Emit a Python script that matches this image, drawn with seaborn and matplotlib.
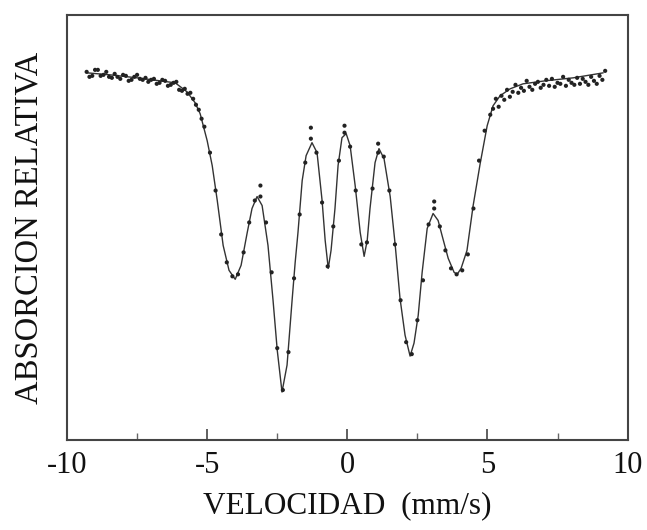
import matplotlib
matplotlib.use("Agg")
import matplotlib.pyplot as plt
import seaborn as sns
import pandas as pd
from matplotlib.ticker import MultipleLocator

# Fitted curve (velocity mm/s, relative transmission %)
fit_velocity = [-9.28, -8.46, -7.50, -6.68, -6.14, -5.72, -5.43, -5.25, -5.00, -4.82,
                -4.64, -4.43, -4.22, -4.00, -3.79, -3.57, -3.40, -3.22, -3.04, -2.83,
                -2.65, -2.50, -2.33, -2.15, -1.97, -1.86, -1.76, -1.61, -1.47, -1.26,
                -1.08, -0.90, -0.79, -0.68, -0.58, -0.44, -0.33, -0.19, -0.04, 0.10,
                0.28, 0.46, 0.60, 0.71, 0.81, 0.99, 1.13, 1.31, 1.53, 1.71,
                1.88, 2.06, 2.24, 2.38, 2.53, 2.67, 2.85, 3.06, 3.24, 3.38,
                3.60, 3.81, 3.92, 4.06, 4.27, 4.49, 4.74, 4.99, 5.20, 5.45,
                5.81, 6.27, 7.06, 8.06, 9.13]
fit_value = [99.90, 99.80, 99.65, 99.50, 99.40, 98.95, 98.40, 97.85, 96.50, 95.25,
             93.50, 91.25, 90.00, 89.55, 90.25, 91.90, 93.10, 93.70, 93.25, 91.25,
             88.50, 86.00, 83.90, 85.25, 88.50, 90.40, 91.90, 94.50, 95.75, 96.40,
             95.90, 93.50, 91.50, 90.10, 91.00, 93.10, 95.25, 96.65, 96.85, 96.25,
             94.25, 91.90, 90.70, 91.50, 93.10, 95.40, 96.10, 95.60, 93.70, 91.25,
             88.60, 86.75, 85.70, 86.35, 87.75, 89.90, 92.10, 92.85, 92.50, 91.75,
             90.60, 89.90, 89.80, 90.10, 91.00, 93.25, 95.35, 97.25, 98.25, 98.75,
             99.10, 99.35, 99.50, 99.65, 99.90]

# Measured points
data_velocity = [-9.3, -9.2, -9.1, -9.0, -8.9, -8.8, -8.7, -8.6, -8.5, -8.4, -8.3, -8.2,
                 -8.1, -8.0, -7.9, -7.8, -7.7, -7.6, -7.5, -7.4, -7.3, -7.2, -7.1, -7.0,
                 -6.9, -6.8, -6.7, -6.6, -6.5, -6.4, -6.3, -6.2, -6.1, -6.0, -5.9, -5.8,
                 -5.7, -5.6, -5.5, -5.4, -5.3, -5.2, -5.1, -4.9, -4.7, -4.5, -4.3, -4.1,
                 -3.9, -3.7, -3.5, -3.3, -3.1, -3.1, -2.9, -2.7, -2.5, -2.3, -2.1, -1.9,
                 -1.7, -1.5, -1.3, -1.3, -1.1, -0.9, -0.7, -0.5, -0.3, -0.1, -0.1, 0.1,
                 0.3, 0.5, 0.7, 0.9, 1.1, 1.1, 1.3, 1.5, 1.7, 1.9, 2.1, 2.3,
                 2.5, 2.7, 2.9, 3.1, 3.1, 3.3, 3.5, 3.7, 3.9, 4.1, 4.3, 4.5,
                 4.7, 4.9, 5.1, 5.2, 5.3, 5.4, 5.5, 5.6, 5.7, 5.8, 5.9, 6.0,
                 6.1, 6.2, 6.3, 6.4, 6.5, 6.6, 6.7, 6.8, 6.9, 7.0, 7.1, 7.2,
                 7.3, 7.4, 7.5, 7.6, 7.7, 7.8, 7.9, 8.0, 8.1, 8.2, 8.3, 8.4,
                 8.5, 8.6, 8.7, 8.8, 8.9, 9.0, 9.1, 9.2]
data_value = [99.95, 99.70, 99.75, 100.05, 100.05, 99.75, 99.80, 99.95, 99.70, 99.65, 99.85, 99.70,
              99.60, 99.80, 99.75, 99.50, 99.55, 99.70, 99.80, 99.60, 99.55, 99.65, 99.45, 99.55,
              99.60, 99.35, 99.40, 99.55, 99.50, 99.25, 99.30, 99.40, 99.45, 99.05, 99.00, 99.10,
              98.85, 98.90, 98.60, 98.30, 98.05, 97.60, 97.20, 95.90, 94.00, 91.80, 90.40, 89.70,
              89.80, 90.90, 92.40, 93.50, 93.70, 94.25, 92.40, 89.90, 86.10, 84.00, 85.90, 89.60,
              92.80, 95.40, 96.60, 97.15, 95.90, 93.40, 90.20, 92.20, 95.50, 96.90, 97.25, 96.20,
              94.00, 91.30, 91.40, 94.10, 95.90, 96.35, 95.70, 94.00, 91.30, 88.50, 86.40, 85.80,
              87.50, 89.50, 92.30, 93.10, 93.45, 92.20, 91.00, 90.10, 89.80, 90.00, 90.80, 93.10,
              95.50, 97.00, 97.80, 98.10, 98.60, 98.20, 98.75, 98.55, 99.05, 98.70, 98.95, 99.30,
              98.90, 99.15, 99.00, 99.50, 99.20, 99.05, 99.35, 99.45, 99.15, 99.30, 99.55, 99.25,
              99.60, 99.20, 99.40, 99.35, 99.70, 99.25, 99.55, 99.40, 99.30, 99.65, 99.35, 99.60,
              99.45, 99.30, 99.70, 99.50, 99.35, 99.75, 99.55, 100.00]

fit_df = pd.DataFrame({"v": fit_velocity, "y": fit_value})
data_df = pd.DataFrame({"v": data_velocity, "y": data_value})

sns.set_style("white")
plt.rcParams["font.family"] = ["Liberation Serif", "DejaVu Serif"]
plt.rcParams["axes.unicode_minus"] = False

fig = plt.figure(figsize=(6.47, 5.30), dpi=100)
ax = fig.add_axes([0.1036, 0.170, 0.8664, 0.8017])

sns.lineplot(data=fit_df, x="v", y="y", ax=ax, color="#333333", linewidth=1.0,
             sort=False, estimator=None)
sns.scatterplot(data=data_df, x="v", y="y", ax=ax, color="#222222", s=9,
                edgecolor="none", zorder=3)

ax.set_xlim(-10, 10)
ax.set_ylim(81.5, 102.8)
ax.xaxis.set_major_locator(MultipleLocator(5))
ax.xaxis.set_minor_locator(MultipleLocator(2.5))
ax.set_yticks([])
ax.tick_params(axis="x", which="both", bottom=True, top=False)
ax.tick_params(axis="x", which="major", direction="in", length=8, width=1.2,
               labelsize=22, pad=8, colors="#444444", labelcolor="#111111")
ax.tick_params(axis="x", which="minor", direction="in", length=5, width=1.0,
               colors="#666666")
ax.tick_params(axis="y", left=False, right=False)
for s in ax.spines.values():
    s.set_color("#444444")
    s.set_linewidth(1.5)

ax.set_xlabel("VELOCIDAD  (mm/s)", fontsize=22.5, color="#111111", labelpad=8)
ax.set_ylabel("ABSORCION RELATIVA", fontsize=23.5, color="#111111", labelpad=16)

fig.savefig("out.png", dpi=100)
